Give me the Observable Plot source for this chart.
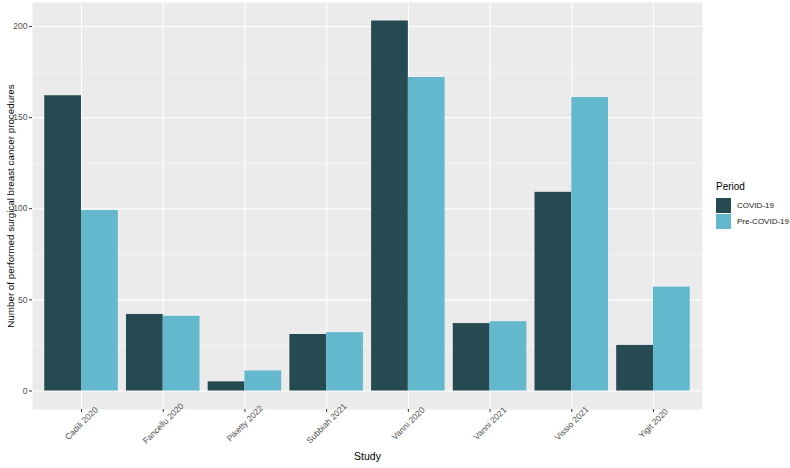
<!DOCTYPE html>
<html>
<head>
<meta charset="utf-8">
<script src="https://cdn.jsdelivr.net/npm/d3@7"></script>
<script src="https://cdn.jsdelivr.net/npm/@observablehq/plot@0.6"></script>
<style>
  html, body { margin: 0; padding: 0; background: #fff; }
  #wrap { position: relative; width: 790px; height: 468px; font-family: "Liberation Sans", Arial, sans-serif; }
  #legend { position: absolute; left: 716px; top: 181px; font-size: 10px; color: #000; white-space: nowrap; }
  #legend .title { margin-bottom: 5px; }
  #legend .item { display: flex; align-items: center; height: 16px; font-size: 8px; color: #1a1a1a; }
  #legend .sw { width: 15px; height: 15px; margin-right: 6px; flex: none; }
</style>
</head>
<body>
<div id="wrap"><div id="legend"></div></div>
<script>
const studies = ["Cadili 2020", "Fancellu 2020", "Piketty 2022", "Subbiah 2021", "Vanni 2020", "Vanni 2021", "Vissio 2021", "Yigit 2020"];
const periods = ["COVID-19", "Pre-COVID-19"];
const covid = [162, 42, 5, 31, 203, 37, 109, 25];
const preCovid = [99, 41, 11, 32, 172, 38, 161, 57];
const colors = ["#264A52", "#63B8CE"];
const yTicks = [0, 50, 100, 150, 200];
const yMinor = [25, 75, 125, 175];

const data = [];
studies.forEach((s, i) => {
  data.push({study: s, idx: i, period: periods[0], value: covid[i], side: 0});
  data.push({study: s, idx: i, period: periods[1], value: preCovid[i], side: 1});
});

const barW = 0.45;
const chart = Plot.plot({
  width: 790,
  height: 468,
  marginLeft: 32,
  marginRight: 88,
  marginTop: 2,
  marginBottom: 59,
  style: {fontFamily: "Liberation Sans, Arial, sans-serif", background: "transparent"},
  x: {type: "linear", domain: [-0.6, studies.length - 0.4], axis: null},
  y: {domain: [-10.15, 213.15], axis: null},
  color: {domain: periods, range: colors},
  marks: [
    Plot.frame({fill: "#EBEBEB", stroke: null}),
    Plot.gridY(yMinor, {stroke: "#fff", strokeOpacity: 1, strokeWidth: 0.55}),
    Plot.gridY(yTicks, {stroke: "#fff", strokeOpacity: 1, strokeWidth: 1.1}),
    Plot.gridX(d3.range(studies.length), {stroke: "#fff", strokeOpacity: 1, strokeWidth: 1.1}),
    Plot.rectY(data, {
      x1: d => d.idx - barW + d.side * barW,
      x2: d => d.idx + d.side * barW,
      y1: 0,
      y2: "value",
      fill: "period"
    }),
    Plot.axisY(yTicks, {
      tickSize: 3, tickPadding: 2, stroke: "#333", fill: "#4D4D4D", fontSize: 8.5, label: null
    }),
    Plot.axisX(d3.range(studies.length), {
      tickFormat: i => studies[i],
      tickSize: 3, tickPadding: 11, tickRotate: -45, textAnchor: "middle", lineAnchor: "middle",
      stroke: "#333", fill: "#4D4D4D", fontSize: 8.5, label: null
    }),
    Plot.text(["Study"], {frameAnchor: "bottom", dy: 50, fontSize: 10.5, fill: "#000"}),
    Plot.text(["Number of performed surgical breast cancer procedures"], {
      frameAnchor: "left", dx: -22, rotate: -90, textAnchor: "middle", fontSize: 9.8, fill: "#000"
    })
  ]
});
const wrap = document.getElementById("wrap");
wrap.insertBefore(chart, wrap.firstChild);

const legend = document.getElementById("legend");
legend.innerHTML = `<div class="title">Period</div>` + periods.map((p, i) =>
  `<div class="item"><div class="sw" style="background:${colors[i]}"></div>${p}</div>`).join("");
</script>
</body>
</html>
